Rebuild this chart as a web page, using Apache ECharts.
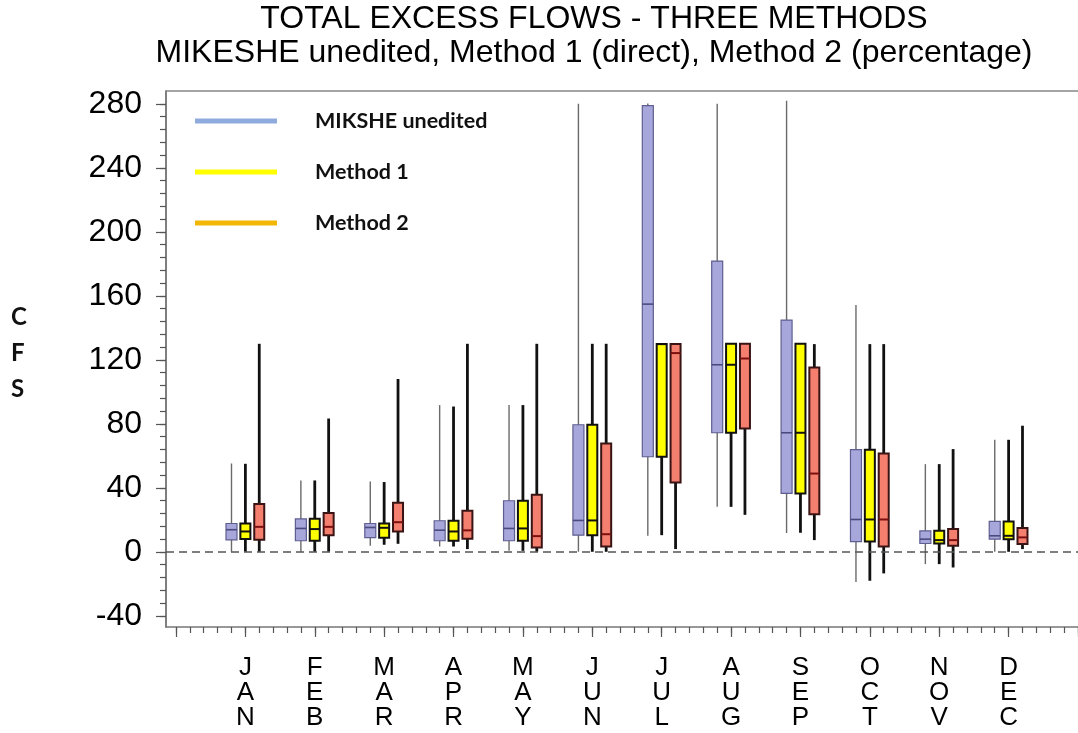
<!DOCTYPE html>
<html><head><meta charset="utf-8">
<script src="https://cdn.jsdelivr.net/npm/echarts@6/dist/echarts.min.js"></script>
<style>html,body{margin:0;padding:0;background:#fff}#c{width:1078px;height:733px}</style>
</head><body><div id="c"></div>
<script>
// ---- data ----
const months = ['JAN','FEB','MAR','APR','MAY','JUN','JUL','AUG','SEP','OCT','NOV','DEC'];
const seriesNames = ['MIKSHE unedited', 'Method 1', 'Method 2'];
// [whisker low, Q1, median, Q3, whisker high]
const mikshe = [
  [0, 7.5, 13.8, 17.7, 55.2],
  [0, 6.9, 14.6, 20.6, 44.6],
  [3.8, 8.8, 15.2, 17.7, 43.9],
  [3.3, 6.9, 13.5, 19.4, 91.7],
  [0.6, 6.9, 14.6, 31.9, 91.7],
  [0, 10.4, 19.6, 79.4, 280],
  [10, 59.4, 154.8, 278.8, 280.2],
  [28.1, 74.4, 116.9, 181.7, 280],
  [11.7, 36.5, 74.4, 144.8, 281.9],
  [-18.8, 6.4, 20.2, 63.8, 154.2],
  [-7.7, 5.2, 7.9, 13.1, 54.8],
  [0, 7.9, 10, 19, 70]
];
const method1 = [
  [0, 8, 12.7, 17.7, 55],
  [0, 6.9, 14.2, 20.6, 44.6],
  [4.4, 8.8, 15, 17.7, 43.6],
  [3.3, 6.9, 12.7, 19.4, 90.8],
  [0.6, 6.9, 14.6, 31.9, 91.7],
  [0, 10.4, 19.6, 79.4, 130],
  [10.4, 59.4, 129.8, 129.8, 129.8],
  [28.1, 74.4, 116.9, 130, 130],
  [11.9, 36.5, 74.4, 130, 130],
  [-18.1, 6.4, 20.2, 63.8, 129.8],
  [-7.7, 5.2, 7.3, 13.1, 54.8],
  [0, 7.9, 10, 19, 70]
];
const method2 = [
  [0, 7.5, 15.6, 29.8, 130],
  [0, 10.4, 15.6, 24.2, 83.3],
  [5, 12.7, 18.5, 30.6, 108],
  [1.7, 8.2, 13.4, 25.7, 130],
  [0, 2.7, 9.8, 35.6, 130],
  [0, 3.3, 11, 67.7, 130],
  [1.7, 43.3, 124.2, 129.8, 129.8],
  [23.1, 77.1, 120.8, 130, 130],
  [7.3, 23.5, 48.9, 115.2, 129.8],
  [-13.5, 3.3, 20.2, 61.5, 129.8],
  [-9.8, 3.8, 7.3, 14.2, 64.2],
  [1.7, 4.8, 9, 14.8, 78.8]
];
const yLabelValues = [-40, 0, 40, 80, 120, 160, 200, 240, 280];
const xLabelValues = [1, 2, 3, 4, 5, 6, 7, 8, 9, 10, 11, 12];

// ---- axis tick helpers (axis config only) ----
const X_MIN = -0.144, X_MAX = 13, Y_MIN = -47, Y_MAX = 288;
const xMajorTicks = [];
for (let i = 0; i <= 13; i++) xMajorTicks.push(i);
const xMinorTicks = [];
for (let i = 0; i <= 65; i++) xMinorTicks.push(Math.round(i * 0.2 * 1000) / 1000);
const yMinorTicks = [];
for (let v = -40; v <= 280; v += 8) yMinorTicks.push(v);

const styles = [
  { offset: -0.2, boxW: 11, fill: '#A7A7DB', border: '#5E5E90', borderW: 1.2, median: '#4A4A7E', medianW: 1.6, whisker: '#6A6A6A', whiskerW: 1.4 },
  { offset: 0,    boxW: 10, fill: '#FFFF00', border: '#111111', borderW: 2,   median: '#111111', medianW: 2,   whisker: '#111111', whiskerW: 2.8 },
  { offset: 0.2,  boxW: 10, fill: '#F47F6E', border: '#3A1414', borderW: 2,   median: '#7A1010', medianW: 2,   whisker: '#111111', whiskerW: 2.8 }
];

function makeRenderer(st) {
  return function (params, api) {
    const x = api.value(0) + st.offset;
    const lo = api.coord([x, api.value(1)]);
    const q1 = api.coord([x, api.value(2)]);
    const med = api.coord([x, api.value(3)]);
    const q3 = api.coord([x, api.value(4)]);
    const hi = api.coord([x, api.value(5)]);
    const cx = lo[0];
    const h = st.boxW / 2;
    return {
      type: 'group',
      children: [
        { type: 'line', shape: { x1: cx, y1: hi[1], x2: cx, y2: lo[1] },
          style: { stroke: st.whisker, lineWidth: st.whiskerW } },
        { type: 'rect', shape: { x: cx - h, y: q3[1], width: st.boxW, height: q1[1] - q3[1] },
          style: { fill: st.fill, stroke: st.border, lineWidth: st.borderW } },
        { type: 'line', shape: { x1: cx - h, y1: med[1], x2: cx + h, y2: med[1] },
          style: { stroke: st.median, lineWidth: st.medianW } }
      ]
    };
  };
}

const datasets = [mikshe, method1, method2];
const series = datasets.map((arr, k) => ({
  name: seriesNames[k],
  type: 'custom',
  xAxisIndex: 0,
  yAxisIndex: 0,
  renderItem: makeRenderer(styles[k]),
  dimensions: ['month', 'low', 'q1', 'median', 'q3', 'high'],
  encode: { x: 0, y: [1, 2, 3, 4, 5] },
  itemStyle: { color: styles[k].fill },
  data: arr.map((d, i) => [xLabelValues[i]].concat(d)),
  z: 3
}));
// dashed zero reference line
series.push({
  type: 'line', data: [], xAxisIndex: 0, yAxisIndex: 0, z: 2, silent: true,
  markLine: {
    silent: true, symbol: 'none', label: { show: false },
    lineStyle: { type: [8, 5], color: '#555', width: 1.5 },
    data: [{ yAxis: 0 }]
  }
});

const axisFont = 'Liberation Sans';
const option = {
  animation: false,
  backgroundColor: '#fff',
  title: {
    text: 'TOTAL EXCESS FLOWS - THREE METHODS\nMIKESHE unedited, Method 1 (direct), Method 2 (percentage)',
    left: 594, top: 2, textAlign: 'center', padding: 0,
    textStyle: { fontFamily: axisFont, fontSize: 32, fontWeight: 'normal', lineHeight: 34, color: '#000' }
  },
  legend: {
    orient: 'vertical', left: 190, top: 104, itemWidth: 82, itemHeight: 5, itemGap: 27,
    icon: 'rect', selectedMode: false,
    textStyle: { fontFamily: 'Lato', fontWeight: 'bold', fontSize: 21.5, lineHeight: 24, color: '#111', padding: [0, 0, 0, 33] },
    data: [
      { name: seriesNames[0], itemStyle: { color: '#8FAADC' } },
      { name: seriesNames[1], itemStyle: { color: '#FFFF00' } },
      { name: seriesNames[2], itemStyle: { color: '#F2B705' } }
    ]
  },
  graphic: [
    { type: 'text', left: 11, top: 299, style: { text: 'C\nF\nS', font: 'bold 24px Lato', lineHeight: 36, fill: '#111' } }
  ],
  grid: { left: 166, right: 0, top: 91, bottom: 106, containLabel: false },
  xAxis: [
    { type: 'value', min: X_MIN, max: X_MAX, position: 'bottom',
      axisLine: { show: true, onZero: false, lineStyle: { color: '#777', width: 1.5 } },
      axisTick: { show: true, customValues: xMajorTicks, length: 10, lineStyle: { color: '#555', width: 1.2 } },
      axisLabel: { show: true, customValues: xLabelValues, margin: 28, color: '#000', fontFamily: axisFont, fontSize: 26, lineHeight: 25,
        formatter: function (v) { const m = months[Math.round(v) - 1]; return m ? m.split('').join('\n') : ''; } },
      splitLine: { show: false } },
    { type: 'value', min: X_MIN, max: X_MAX, position: 'bottom',
      axisLine: { show: false, onZero: false },
      axisTick: { show: true, customValues: xMinorTicks, length: 6, lineStyle: { color: '#555', width: 1.2 } },
      axisLabel: { show: false }, splitLine: { show: false } },
    { type: 'value', min: X_MIN, max: X_MAX, position: 'top',
      axisLine: { show: true, onZero: false, lineStyle: { color: '#888', width: 1.5 } },
      axisTick: { show: false }, axisLabel: { show: false }, splitLine: { show: false } }
  ],
  yAxis: [
    { type: 'value', min: Y_MIN, max: Y_MAX, position: 'left',
      axisLine: { show: true, onZero: false, lineStyle: { color: '#555', width: 1.5 } },
      axisTick: { show: true, customValues: yLabelValues, length: 10, lineStyle: { color: '#555', width: 1.2 } },
      axisLabel: { show: true, customValues: yLabelValues, margin: 24, color: '#000', fontFamily: axisFont, fontSize: 32 },
      splitLine: { show: false } },
    { type: 'value', min: Y_MIN, max: Y_MAX, position: 'left',
      axisLine: { show: false, onZero: false },
      axisTick: { show: true, customValues: yMinorTicks, length: 6, lineStyle: { color: '#555', width: 1.2 } },
      axisLabel: { show: false }, splitLine: { show: false } }
  ],
  series: series
};

const chart = echarts.init(document.getElementById('c'), null, { renderer: 'canvas' });
chart.setOption(option);
</script>
</body></html>
